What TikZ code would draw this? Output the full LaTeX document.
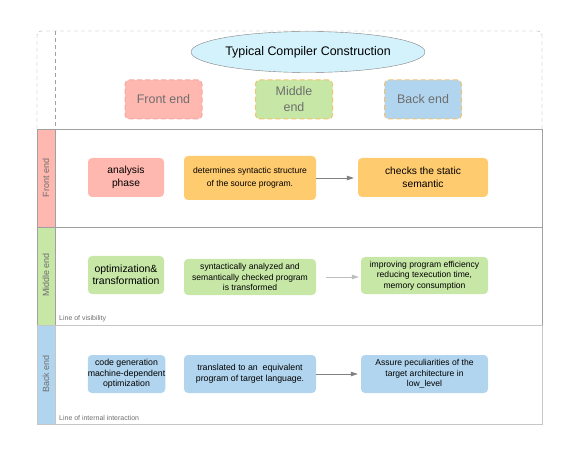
\documentclass[tikz,border=0pt]{standalone}
\usepackage{fontspec}
\setmainfont{Liberation Sans}
\usetikzlibrary{arrows.meta,shapes.geometric}

\definecolor{frontred}{HTML}{FFB8B0}
\definecolor{middlegreen}{HTML}{C7E7A7}
\definecolor{backblue}{HTML}{B2D5EF}
\definecolor{steporange}{HTML}{FFCB6F}
\definecolor{titlecyan}{HTML}{D4F2FC}
\definecolor{dashorange}{HTML}{F5C26B}
\definecolor{dashred}{HTML}{F4A8A0}
\definecolor{lanegray}{HTML}{A0A0A0}
\definecolor{textgray}{HTML}{6E6E6E}

\begin{document}
\begin{tikzpicture}[x=1bp,y=-1bp,
    phasebox/.style={rounded corners=4bp, align=center, inner sep=0pt,
        font=\fontsize{8.6}{10.6}\selectfont},
    bigtext/.style={font=\fontsize{10.3}{12.5}\selectfont},
    headbox/.style={rounded corners=4bp, align=center, inner sep=0pt,
        minimum width=77bp, minimum height=39bp, line width=1bp,
        dash pattern=on 5bp off 3bp, text=textgray,
        font=\fontsize{12.5}{16}\selectfont},
    lane/.style={draw=lanegray, line width=0.8bp},
    lanelabel/.style={rotate=90, text=textgray, font=\fontsize{9}{11}\selectfont},
    lanenote/.style={anchor=west, inner sep=0pt, text=textgray,
        font=\fontsize{7}{8}\selectfont},
    flow/.style={draw=gray, line width=0.8bp,
        -{Triangle[length=7bp,width=4.5bp]}}]

    % Fix the page size
    \useasboundingbox (0,0) rectangle (580,465);

    % Draw the dashed header frame
    \draw[lanegray, dash pattern=on 4bp off 3bp, rounded corners=4bp]
        (37,129) -- (37,31) -- (542,31) -- (542,129);
    \draw[lanegray, dash pattern=on 4bp off 3bp] (55,31) -- (55,129);

    % Title and header boxes
    \node[ellipse, draw=gray, fill=titlecyan, minimum width=198bp,
        minimum height=41bp, inner sep=0pt,
        font=\fontsize{12.5}{15}\selectfont] (title) at (308,52)
        {Typical Compiler Construction};
    \node[headbox, draw=dashred, fill=frontred] (fronthead) at (163.5,99.5) {Front end};
    \node[headbox, draw=dashorange, fill=middlegreen] (middlehead) at (294,99.5) {Middle\\end};
    \node[headbox, draw=dashorange, fill=backblue] (backhead) at (423,99.5) {Back end};

    % Draw the three lanes
    \draw[lane] (37,129) rectangle (542,227);
    \draw[lane] (37,227) rectangle (542,325);
    \draw[lane, draw=lanegray!60] (37,325) rectangle (542,424);
    \filldraw[lane, fill=frontred] (37,129) rectangle (55,227);
    \filldraw[lane, fill=middlegreen] (37,227) rectangle (55,325);
    \filldraw[lane, draw=lanegray!60, fill=backblue] (37,325) rectangle (55,424);

    % Lane labels
    \node[lanelabel] (frontlane) at (46,178) {Front end};
    \node[lanelabel] (middlelane) at (46,275) {Middle end};
    \node[lanelabel] (backlane) at (46,374) {Back end};
    \node[lanenote] (visibility) at (59,319) {Line of visibility};
    \node[lanenote] (interaction) at (59,418) {Line of internal interaction};

    % Front end lane
    \node[phasebox, bigtext, fill=frontred, minimum width=76bp, minimum height=39bp]
        (analysis) at (126,177.5) {analysis\\phase};
    \node[phasebox, fill=steporange, minimum width=132bp, minimum height=44bp,
        font=\fontsize{8.6}{13}\selectfont]
        (determines) at (250,178) {determines syntactic structure\\of the source program.};
    \node[phasebox, bigtext, fill=steporange, minimum width=130bp, minimum height=39bp]
        (checks) at (423,177.5) {checks the static\\semantic};

    % Middle end lane
    \node[phasebox, fill=middlegreen, minimum width=76bp, minimum height=38bp,
        font=\fontsize{10.5}{12}\selectfont]
        (optimization) at (126,275) {optimization\&\\transformation};
    \node[phasebox, fill=middlegreen, minimum width=132bp, minimum height=36bp]
        (syntactically) at (250,277) {syntactically analyzed and\\semantically checked program\\is transformed};
    \node[phasebox, fill=middlegreen, minimum width=127bp, minimum height=37bp]
        (improving) at (424.5,275.5) {improving program efficiency\\reducing texecution time,\\memory consumption};

    % Back end lane
    \node[phasebox, fill=backblue, minimum width=77bp, minimum height=38bp,
        font=\fontsize{8.8}{10.6}\selectfont]
        (codegen) at (126.5,374) {code generation\\machine-dependent\\optimization};
    \node[phasebox, fill=backblue, minimum width=132bp, minimum height=38bp,
        font=\fontsize{8.8}{11}\selectfont]
        (translated) at (250,374) {translated to an\ \ equivalent\\program of target language.};
    \node[phasebox, fill=backblue, minimum width=127bp, minimum height=38bp]
        (assure) at (424.5,374) {Assure peculiarities of the\\target architecture in\\low\_level};

    % Draw the arrows
    \draw[flow, shorten >=4bp] (determines.east) -- (determines.east -| checks.west);
    \draw[flow, draw=lanegray!70, shorten <=10bp, shorten >=2bp]
        (syntactically.east) -- (syntactically.east -| improving.west);
    \draw[flow, shorten >=3bp] (translated.east) -- (translated.east -| assure.west);

\end{tikzpicture}
\end{document}
